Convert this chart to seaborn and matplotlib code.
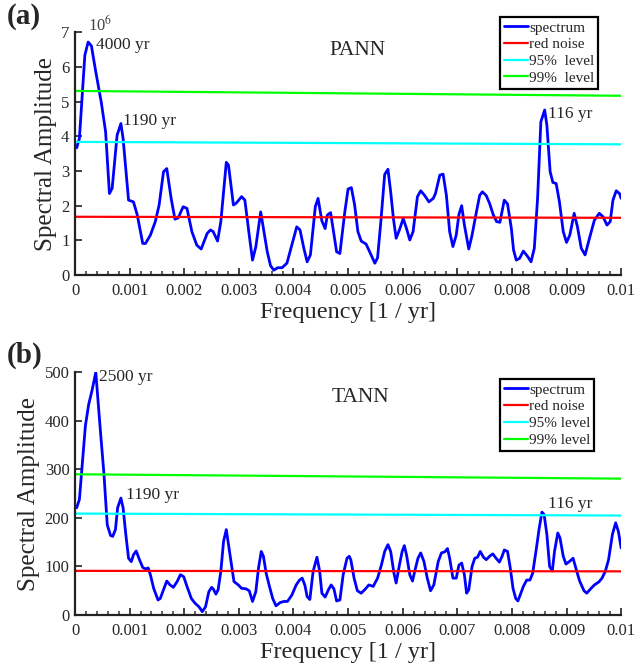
import numpy as np
import pandas as pd
import matplotlib
matplotlib.use("Agg")
import matplotlib.pyplot as plt
import seaborn as sns
from matplotlib.ticker import MultipleLocator, FixedLocator, FixedFormatter

# -----------------------------
# DATA (frequency in units of 1e-3 / yr)
# -----------------------------
pann_freq = [0.03, 0.08, 0.18, 0.24, 0.30, 0.38, 0.48, 0.56, 0.63, 0.68, 0.77, 0.84, 0.88, 0.98,
             1.07, 1.14, 1.24, 1.29, 1.38, 1.47, 1.54, 1.62, 1.68, 1.76, 1.83, 1.89, 1.98,
             2.05, 2.14, 2.23, 2.31, 2.42, 2.48, 2.53, 2.61, 2.67, 2.77, 2.81, 2.90, 2.95,
             3.05, 3.11, 3.19, 3.25, 3.31, 3.40, 3.45, 3.52, 3.58, 3.64, 3.71, 3.79, 3.88, 3.97,
             4.06, 4.12, 4.19, 4.25, 4.31, 4.40, 4.45, 4.52, 4.58, 4.62, 4.68, 4.79, 4.85, 4.94,
             5.00, 5.06, 5.12, 5.18, 5.24, 5.33, 5.41, 5.49, 5.54, 5.60, 5.67, 5.73, 5.78, 5.83,
             5.88, 5.94, 6.01, 6.07, 6.13, 6.19, 6.27, 6.33, 6.40, 6.48, 6.56, 6.60, 6.68, 6.74,
             6.80, 6.86, 6.92, 6.98, 7.03, 7.08, 7.13, 7.21, 7.27, 7.35, 7.41, 7.46, 7.53, 7.59,
             7.66, 7.72, 7.78, 7.86, 7.92, 7.99, 8.03, 8.08, 8.14, 8.21, 8.29, 8.35, 8.41, 8.47,
             8.53, 8.60, 8.64, 8.70, 8.75, 8.81, 8.87, 8.94, 9.00, 9.06, 9.14, 9.20, 9.27, 9.34,
             9.42, 9.51, 9.60, 9.67, 9.74, 9.80, 9.85, 9.91, 9.97, 10.00]
pann_amp = [3.67, 3.94, 6.34, 6.72, 6.61, 5.86, 4.99, 4.13, 2.35, 2.50, 4.03, 4.37, 3.94, 2.16,
            2.11, 1.73, 0.91, 0.91, 1.15, 1.54, 2.02, 2.98, 3.07, 2.21, 1.61, 1.65, 1.97,
            1.92, 1.25, 0.86, 0.75, 1.20, 1.30, 1.25, 0.98, 1.54, 3.25, 3.17, 2.02, 2.07,
            2.26, 2.16, 1.15, 0.43, 0.81, 1.82, 1.34, 0.67, 0.27, 0.14, 0.21, 0.21, 0.34, 0.86,
            1.39, 1.30, 0.77, 0.38, 0.58, 1.97, 2.21, 1.56, 1.34, 1.73, 1.80, 0.67, 0.62, 1.82,
            2.48, 2.52, 2.02, 1.25, 0.98, 0.89, 0.62, 0.34, 0.50, 1.54, 2.90, 3.05, 2.40, 1.63,
            1.06, 1.30, 1.63, 1.34, 1.01, 1.25, 2.26, 2.43, 2.30, 2.11, 2.21, 2.35, 2.88, 2.91,
            2.30, 1.25, 0.82, 1.15, 1.75, 2.00, 1.44, 0.75, 1.15, 1.82, 2.30, 2.40, 2.29, 2.07,
            1.73, 1.54, 1.52, 2.16, 2.05, 1.34, 0.72, 0.43, 0.48, 0.69, 0.53, 0.38, 0.77, 2.21,
            4.42, 4.76, 4.32, 2.98, 2.67, 2.64, 2.11, 1.25, 0.94, 1.15, 1.78, 1.39, 0.77, 0.58,
            1.06, 1.58, 1.78, 1.68, 1.44, 1.54, 2.16, 2.43, 2.35, 2.21]

tann_freq = [0.03, 0.08, 0.19, 0.25, 0.31, 0.38, 0.46, 0.53, 0.59, 0.65, 0.69, 0.74, 0.78, 0.84,
             0.88, 0.93, 0.98, 1.03, 1.07, 1.12, 1.18, 1.24, 1.29, 1.34, 1.38, 1.44, 1.52, 1.56,
             1.62, 1.68, 1.74, 1.80, 1.87, 1.93, 1.99, 2.05, 2.13, 2.20, 2.27, 2.33, 2.39, 2.45,
             2.50, 2.53, 2.58, 2.62, 2.67, 2.72, 2.77, 2.81, 2.87, 2.91, 2.99, 3.05, 3.13, 3.19,
             3.25, 3.31, 3.36, 3.41, 3.45, 3.50, 3.56, 3.62, 3.68, 3.76, 3.83, 3.89, 3.97, 4.05,
             4.11, 4.16, 4.21, 4.25, 4.30, 4.36, 4.43, 4.48, 4.52, 4.58, 4.64, 4.69, 4.74, 4.79,
             4.85, 4.91, 4.98, 5.02, 5.05, 5.11, 5.17, 5.24, 5.32, 5.38, 5.46, 5.54, 5.61, 5.67,
             5.73, 5.78, 5.84, 5.88, 5.94, 5.99, 6.03, 6.07, 6.13, 6.18, 6.22, 6.28, 6.33, 6.39,
             6.45, 6.51, 6.57, 6.65, 6.71, 6.77, 6.82, 6.86, 6.92, 6.98, 7.03, 7.08, 7.13, 7.17,
             7.21, 7.27, 7.32, 7.37, 7.42, 7.48, 7.53, 7.59, 7.65, 7.71, 7.77, 7.82, 7.86, 7.92,
             7.97, 8.02, 8.07, 8.11, 8.15, 8.21, 8.27, 8.33, 8.38, 8.44, 8.50, 8.55, 8.59, 8.64,
             8.69, 8.74, 8.78, 8.84, 8.88, 8.94, 8.99, 9.05, 9.12, 9.18, 9.24, 9.32, 9.37, 9.45,
             9.51, 9.59, 9.65, 9.71, 9.77, 9.84, 9.90, 9.95, 10.00]
tann_amp = [221, 238, 390, 434, 462, 500, 386, 290, 186, 164, 162, 176, 221, 241,
            221, 166, 117, 110, 124, 132, 114, 98, 95, 97, 83, 55, 31, 34,
            52, 70, 62, 57, 69, 83, 79, 59, 34, 24, 17, 7, 17, 48,
            57, 54, 43, 52, 90, 152, 176, 145, 97, 69, 62, 55, 54, 50,
            28, 48, 97, 131, 121, 86, 59, 34, 19, 26, 28, 28, 41, 62,
            72, 76, 61, 38, 32, 90, 119, 90, 45, 37, 52, 62, 54, 29,
            31, 83, 117, 121, 114, 76, 50, 45, 54, 62, 59, 76, 103, 131,
            145, 131, 86, 66, 103, 131, 143, 124, 83, 70, 90, 117, 128, 110,
            76, 50, 62, 110, 128, 130, 137, 117, 76, 76, 103, 107, 83, 45,
            52, 100, 117, 119, 131, 119, 114, 121, 126, 117, 109, 121, 134, 131,
            97, 55, 34, 29, 41, 59, 72, 72, 86, 131, 179, 212, 207, 166,
            100, 91, 131, 169, 159, 121, 105, 110, 117, 93, 70, 50, 45, 55,
            62, 68, 76, 90, 114, 166, 190, 172, 138]

# significance levels: value at f = 0 and f = 0.01
level_freq = [0.0, 10.0]
pann_red = [1.68, 1.65]
pann_95 = [3.84, 3.77]
pann_99 = [5.31, 5.17]
tann_red = [91, 90]
tann_95 = [209, 205]
tann_99 = [290, 281]

xtick_vals = [0, 1, 2, 3, 4, 5, 6, 7, 8, 9, 10]
xtick_labels = ["0", "0.001", "0.002", "0.003", "0.004", "0.005",
                "0.006", "0.007", "0.008", "0.009", "0.01"]

# -----------------------------
# STYLE
# -----------------------------
sns.set_style("ticks")
plt.rcParams["font.family"] = ["Liberation Serif", "DejaVu Serif"]
plt.rcParams["mathtext.fontset"] = "stix"

fig = plt.figure(figsize=(6.44, 6.68), dpi=100)
ax_a = fig.add_axes([0.1165, 0.5883, 0.848, 0.3633])
ax_b = fig.add_axes([0.1165, 0.0793, 0.848, 0.3633])


def draw_panel(ax, freq, amp, red, l95, l99, labels95, legend_anchor):
    spec = pd.DataFrame({"freq": np.array(freq) / 1000, "amp": amp})
    sns.lineplot(data=spec, x="freq", y="amp", sort=False, color="#0000ff",
                 lw=2.0, label="spectrum", ax=ax)
    lf = np.array(level_freq) / 1000
    for vals, col, lab in [(red, "#ff0000", "red noise"),
                           (l95, "#00ffff", labels95[0]),
                           (l99, "#00ff00", labels95[1])]:
        lev = pd.DataFrame({"freq": lf, "amp": vals})
        sns.lineplot(data=lev, x="freq", y="amp", color=col, lw=1.6, label=lab, ax=ax)

    ax.set_xlim(0, 0.01)
    ax.xaxis.set_major_locator(FixedLocator(np.array(xtick_vals) / 1000))
    ax.xaxis.set_major_formatter(FixedFormatter(xtick_labels))
    ax.xaxis.set_minor_locator(MultipleLocator(0.0002))
    ax.tick_params(axis="both", which="major", direction="in", length=5, width=1.3,
                   labelsize=12, color="#333333")
    ax.tick_params(axis="x", which="major", pad=6)
    ax.tick_params(axis="y", which="major", pad=4)
    ax.tick_params(axis="x", which="minor", direction="in", length=3, width=1.1,
                   color="#333333")
    sns.despine(ax=ax)
    for side in ["left", "bottom"]:
        ax.spines[side].set_linewidth(1.6)
        ax.spines[side].set_color("#222222")
    ax.set_xlabel("Frequency [1 / yr]", fontsize=17.5, labelpad=2)
    ax.set_ylabel("Spectral Amplitude", fontsize=18, labelpad=3)

    leg = ax.legend(loc="upper right", bbox_to_anchor=legend_anchor, frameon=True,
                    fancybox=False, edgecolor="black", framealpha=1, fontsize=11,
                    handlelength=1.6, handletextpad=0.05, borderpad=0.25,
                    labelspacing=0.2, borderaxespad=0)
    leg.get_frame().set_linewidth(1.6)


# -----------------------------
# (a) PANN
# -----------------------------
draw_panel(ax_a, pann_freq, pann_amp, pann_red, pann_95, pann_99,
           ["95%  level", "99%  level"], (0.958, 1.063))
ax_a.set_ylim(0, 7)
ax_a.set_yticks(range(0, 8))
ax_a.text(0.023, 0.99, r"10$^6$", transform=ax_a.transAxes, fontsize=12,
          color="#444444", va="bottom", ha="left")
ax_a.text(0.00038, 6.63, "4000 yr", fontsize=12.5, va="center")
ax_a.text(0.00087, 4.43, "1190 yr", fontsize=12.5, va="center")
ax_a.text(0.00866, 4.64, "116 yr", fontsize=12.5, va="center")
ax_a.text(0.518, 0.925, "PANN", transform=ax_a.transAxes, fontsize=15.5,
          ha="center", va="center")
fig.text(0.01, 0.975, "(a)", fontsize=21, fontweight="bold", va="center")

# -----------------------------
# (b) TANN
# -----------------------------
draw_panel(ax_b, tann_freq, tann_amp, tann_red, tann_95, tann_99,
           ["95% level", "99% level"], (0.9505, 0.972))
ax_b.set_ylim(0, 500)
ax_b.set_yticks(range(0, 501, 100))
ax_b.text(0.00044, 490, "2500 yr", fontsize=12.5, va="center")
ax_b.text(0.00093, 248, "1190 yr", fontsize=12.5, va="center")
ax_b.text(0.00866, 228, "116 yr", fontsize=12.5, va="center")
ax_b.text(0.523, 0.898, "TANN", transform=ax_b.transAxes, fontsize=15.5,
          ha="center", va="center")
fig.text(0.01, 0.468, "(b)", fontsize=21, fontweight="bold", va="center")

fig.savefig("out.png", dpi=100)
